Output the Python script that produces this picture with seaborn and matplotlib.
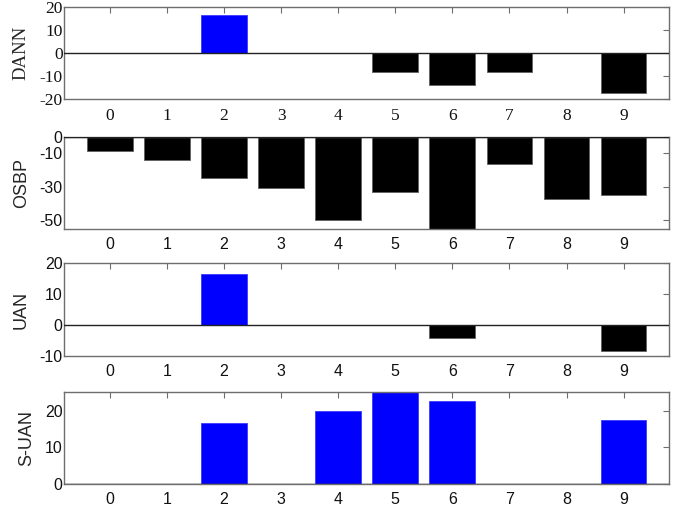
import numpy as np
import pandas as pd
import matplotlib
matplotlib.use("Agg")
import matplotlib.pyplot as plt
import seaborn as sns

sns.set_theme(style="white")

classes = [0, 1, 2, 3, 4, 5, 6, 7, 8, 9]
dann = [0, 0, 16.5, 0, 0, -8.3, -13.6, -8.3, 0, -17.3]
osbp = [-8.3, -14.2, -24.9, -30.6, -50.0, -33.2, -56.0, -16.6, -37.2, -34.6]
uan = [0, 0, 16.5, 0, 0, 0, -4.4, 0, 0, -8.6]
suan = [0, 0, 16.6, 0, 20.0, 25.5, 22.7, 0, 0, 17.4]

# name, values, y-range, y-ticks, font, tick size, label size
panels = [
    ("DANN", dann, (-20, 20), [-20, -10, 0, 10, 20], "Liberation Serif", 12.5, 13.5),
    ("OSBP", osbp, (-55, 0), [-50, -30, -10, 0], "Liberation Sans", 11.5, 13),
    ("UAN", uan, (-10, 20), [-10, 0, 10, 20], "Liberation Sans", 11.5, 13),
    ("S-UAN", suan, (0, 25), [0, 10, 20], "Liberation Sans", 11.5, 13),
]

boxes = [
    (0.0933, 0.8045, 0.8824, 0.1817),
    (0.0933, 0.5498, 0.8824, 0.1811),
    (0.0933, 0.2998, 0.8824, 0.1819),
    (0.0933, 0.0472, 0.8824, 0.1805),
]

fig = plt.figure(figsize=(6.86, 5.08), dpi=100)
spine_col = "#6e6e6e"

for (name, vals, ylim, yticks, fam, tsize, lsize), box in zip(panels, boxes):
    ax = fig.add_axes(box)
    df = pd.DataFrame({"cls": classes, "val": vals})
    df["sign"] = np.where(df["val"] > 0, "pos", "neg")
    sns.barplot(data=df, x="cls", y="val", hue="sign",
                palette={"pos": "#0000ff", "neg": "#000000"}, saturation=1,
                width=0.8, dodge=False, legend=False, ax=ax,
                edgecolor="#606060", linewidth=0.6)
    for p in ax.patches:
        if p.get_facecolor()[2] > 0.5:
            p.set_edgecolor("#3b3bff")
    ax.axhline(0, color="#222222", lw=1.0, zorder=3)
    ax.set_xlim(-0.8, 9.8)
    ax.set_ylim(*ylim)
    ax.set_yticks(yticks)
    ax.set_xticks(range(10))
    ax.set_xticklabels([str(c) for c in classes], family=fam, fontsize=tsize)
    ax.set_yticklabels([str(t) for t in yticks], family=fam, fontsize=tsize)
    ax.set_xlabel("")
    ax.set_ylabel(name, family=fam, fontsize=lsize, labelpad=7)
    ax.tick_params(direction="in", top=True, right=True, length=4,
                   width=0.8, color=spine_col, labelcolor="#111111")
    ax.tick_params(axis="x", pad=6)
    ax.tick_params(axis="y", pad=1)
    for s in ax.spines.values():
        s.set_color(spine_col)
        s.set_linewidth(1.0)
        s.set_visible(True)
    ax.grid(False)

fig.savefig("out.png", dpi=100, facecolor="white")
